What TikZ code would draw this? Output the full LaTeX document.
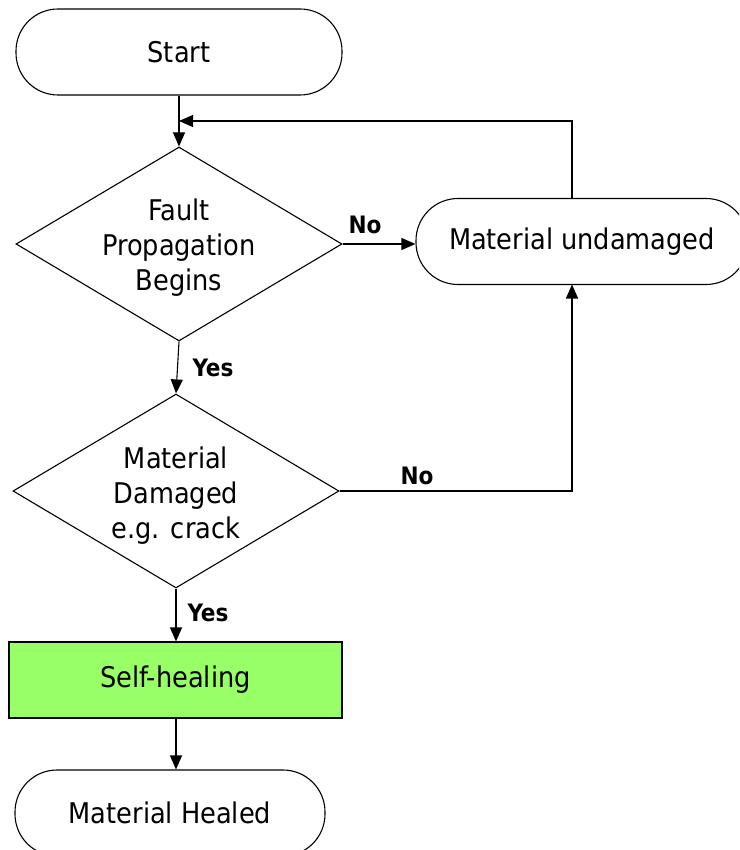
\documentclass[tikz,border=0pt]{standalone}
\usepackage{fontspec}
\setmainfont{DejaVu Sans Condensed}
\usetikzlibrary{arrows.meta,shapes.geometric}
\definecolor{healgreen}{RGB}{153,255,102}
\begin{document}
\begin{tikzpicture}[x=1pt,y=-1pt,
  txt/.style={font=\fontsize{28.5}{35}\selectfont, align=center, inner sep=0pt},
  terminal/.style={draw, line width=1.1pt, rectangle, rounded corners=42pt, minimum height=86pt, txt},
  decision/.style={draw, line width=1.1pt, diamond, minimum width=326pt, minimum height=194pt, inner sep=0pt},
  procbox/.style={draw, line width=1.1pt, rectangle, fill=healgreen, minimum width=333pt, minimum height=76pt, txt},
  lbl/.style={font=\fontsize{24}{28}\selectfont\bfseries, inner sep=0pt},
  arr/.style={line width=1.1pt, -{Triangle[length=14pt,width=12pt]}},
  plain/.style={line width=1.1pt}]
\useasboundingbox (0,0) rectangle (739,850);
\clip (0,0) rectangle (739,850);

\node[terminal, minimum width=326pt] (start) at (179,52) {Start};
\node[decision] (d1) at (179,244) {};
\node[txt] (d1txt) at (179,248) {Fault\\Propagation\\Begins};
\node[terminal, minimum width=332pt] (mu) at (582,241.5) {Material undamaged};
\node[decision] (d2) at (176,491) {};
\node[txt] (d2txt) at (176,496) {Material\\Damaged\\e.g. crack};
\node[procbox] (heal) at (175.5,680) {Self-healing};
\node[terminal, minimum width=310pt] (healed) at (170,813) {Material Healed};

\coordinate (fb) at (179,121);
\coordinate (mut) at (572,199);
\coordinate (mub) at (572,284.5);

\draw[arr] (start.south) -- (d1.north);
\draw[arr] (mut) |- (fb);
\draw[arr] (d1.east) -- (d1.east -| mu.west);
\draw[arr] (d1.south) -- (d2.north);
\draw[arr] (d2.east) -| (mub);
\draw[arr] (d2.south) -- (d2.south |- heal.north);
\draw[arr] (heal.south -| d2.south) -- (d2.south |- healed.north);

\node[lbl] (no1) at (365,225) {No};
\node[lbl] (yes1) at (213,368) {Yes};
\node[lbl] (no2) at (417,476) {No};
\node[lbl] (yes2) at (208,613) {Yes};
\end{tikzpicture}
\end{document}
